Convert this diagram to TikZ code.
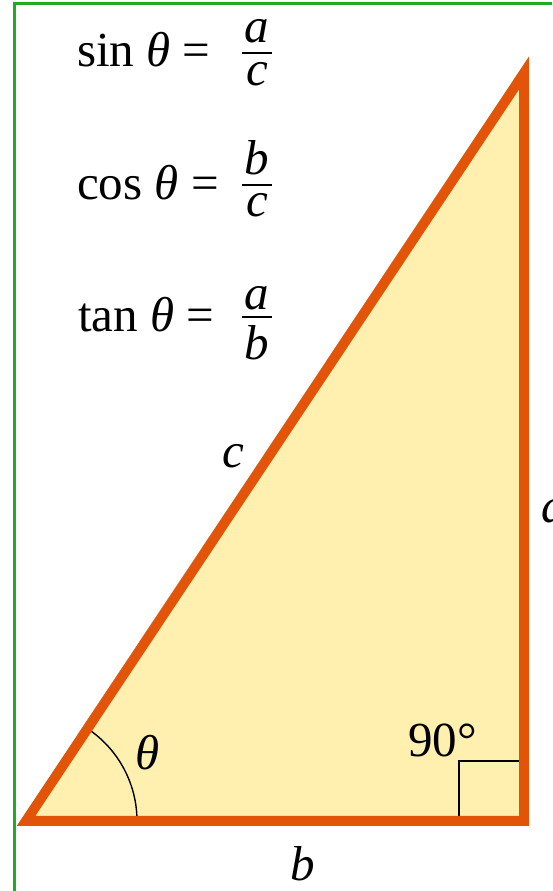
\documentclass[tikz,border=0pt]{standalone}
\usepackage{fontspec}
\setmainfont{Liberation Serif}
\definecolor{tristroke}{RGB}{226,84,8}
\definecolor{trifill}{RGB}{255,240,176}
\definecolor{frame}{RGB}{34,170,34}
\begin{document}
\begin{tikzpicture}[x=1pt,y=1pt,
  lbl/.style={inner sep=0pt,font=\fontsize{49}{58}\selectfont},
  barline/.style={line width=2.4pt},
  thin/.style={line width=1.4pt,black}]
\useasboundingbox (0,0) rectangle (552,891);
% frame
\coordinate (F1) at (14.5,0);
\coordinate (F2) at (14.5,887.5);
\coordinate (F3) at (552,887.5);
\draw[frame,line width=2.4pt] (F1) -- (F2) -- (F3);
% triangle corners
\coordinate (A) at (26,70);
\coordinate (B) at (524,70);
\coordinate (C) at (524,818);
\fill[trifill] (A) -- (B) -- (C) -- cycle;
% right angle square
\coordinate (S1) at (459,70);
\coordinate (S2) at (459,130);
\coordinate (S3) at (524,130);
\draw[thin] (S1) -- (S2) -- (S3);
% angle arc
\draw[thin] (A) ++(0:111) arc[start angle=0,end angle=56.35,radius=111];
\draw[tristroke,line width=10pt,line join=miter,miter limit=20] (A) -- (B) -- (C) -- cycle;
% labels
\node[lbl,anchor=center] (th) at (148,138) {\textit{θ}};
\node[lbl,anchor=base west] (ninety) at (408,134) {90°};
\node[lbl,anchor=center] (lc) at (233,435) {\textit{c}};
\node[lbl,anchor=center] (lb) at (303,27) {\textit{b}};
\node[lbl,anchor=base west] (la) at (541,368) {\textit{a}};
% formulas
\node[lbl,anchor=base west] (sin) at (77,824) {sin \textit{θ} =};
\node[lbl,anchor=base] (sinN) at (257,848) {\textit{a}};
\node[lbl,anchor=base] (sinD) at (257,805) {\textit{c}};
\coordinate (sinL) at (242,838); \coordinate (sinR) at (272,838);
\draw[barline] (sinL) -- (sinR);
\node[lbl,anchor=base west] (cos) at (77,691) {cos \textit{θ} =};
\node[lbl,anchor=base] (cosN) at (257,716) {\textit{b}};
\node[lbl,anchor=base] (cosD) at (257,674) {\textit{c}};
\coordinate (cosL) at (242,706); \coordinate (cosR) at (272,706);
\draw[barline] (cosL) -- (cosR);
\node[lbl,anchor=base west] (tan) at (78,559) {tan \textit{θ} =};
\node[lbl,anchor=base] (tanN) at (257,581) {\textit{a}};
\node[lbl,anchor=base] (tanD) at (257,531) {\textit{b}};
\coordinate (tanL) at (242,574); \coordinate (tanR) at (272,574);
\draw[barline] (tanL) -- (tanR);
\end{tikzpicture}
\end{document}
